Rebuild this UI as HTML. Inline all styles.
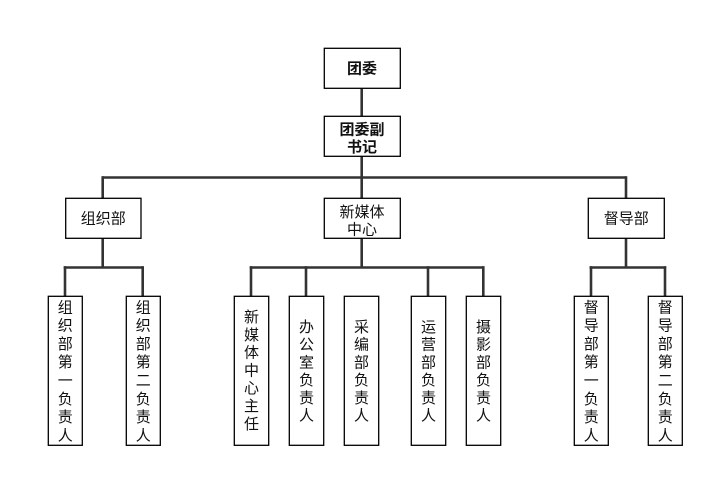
<!DOCTYPE html>
<html>
<head>
<meta charset="utf-8">
<style>
html,body{margin:0;padding:0;background:#fff;}
svg{display:block;}
text{font-family:"Liberation Sans","Noto Sans CJK SC","WenQuanYi Zen Hei",sans-serif;fill:#111;}
.b{font-weight:bold;}
</style>
</head>
<body>
<svg width="713" height="477" viewBox="0 0 713 477" xmlns="http://www.w3.org/2000/svg">
<rect width="713" height="477" fill="#fff"/>
<g stroke="#333" stroke-width="2.6" fill="none">
  <!-- center trunk -->
  <line x1="361.7" y1="88" x2="361.7" y2="116"/>
  <line x1="361.7" y1="156" x2="361.7" y2="198"/>
  <line x1="102.7" y1="177.5" x2="626" y2="177.5"/>
  <line x1="102.7" y1="176.2" x2="102.7" y2="198"/>
  <line x1="626" y1="176.2" x2="626" y2="198"/>
  <!-- left -->
  <line x1="102.7" y1="238" x2="102.7" y2="267.5"/>
  <line x1="63.7" y1="267.5" x2="143.3" y2="267.5"/>
  <line x1="65" y1="266.2" x2="65" y2="296"/>
  <line x1="142.7" y1="266.2" x2="142.7" y2="296"/>
  <!-- middle -->
  <line x1="361.7" y1="238" x2="361.7" y2="267.5"/>
  <line x1="249.7" y1="267.5" x2="484.5" y2="267.5"/>
  <line x1="251" y1="266.2" x2="251" y2="296"/>
  <line x1="306" y1="266.2" x2="306" y2="296"/>
  <line x1="428" y1="266.2" x2="428" y2="296"/>
  <line x1="483.3" y1="266.2" x2="483.3" y2="296"/>
  <!-- right -->
  <line x1="626" y1="238" x2="626" y2="267.5"/>
  <line x1="589.5" y1="267.5" x2="666.2" y2="267.5"/>
  <line x1="591" y1="266.2" x2="591" y2="296"/>
  <line x1="665" y1="266.2" x2="665" y2="296"/>
</g>
<g stroke="#000" stroke-width="1.3" fill="#fff">
  <rect x="324.3" y="48.3" width="76" height="40"/>
  <rect x="324.3" y="116.3" width="76" height="40"/>
  <rect x="65.7" y="198.3" width="75.3" height="40"/>
  <rect x="324.3" y="198.3" width="76" height="40"/>
  <rect x="588.3" y="198.3" width="76" height="40"/>
  <rect x="48.3" y="296.3" width="34" height="149"/>
  <rect x="126.3" y="296.3" width="34" height="149"/>
  <rect x="234.3" y="296.3" width="34.4" height="149"/>
  <rect x="289.3" y="296.3" width="34.4" height="149"/>
  <rect x="344.3" y="296.3" width="34.4" height="149"/>
  <rect x="411.3" y="296.3" width="34.4" height="149"/>
  <rect x="466.3" y="296.3" width="34.4" height="149"/>
  <rect x="574.3" y="296.3" width="34" height="149"/>
  <rect x="648.3" y="296.3" width="34" height="149"/>
</g>
<g font-size="15" text-anchor="middle">
  <text class="b" x="362" y="73.5">团委</text>
  <text class="b" x="362" y="134.5">团委副</text>
  <text class="b" x="362" y="152">书记</text>
  <text x="103.3" y="223.5">组织部</text>
  <text x="362" y="217">新媒体</text>
  <text x="362" y="234.5">中心</text>
  <text x="626.3" y="223.5">督导部</text>
</g>
<g font-size="15" text-anchor="middle">
  <!-- 组织部第一负责人 -->
  <g transform="translate(65.3,0)">
    <text x="0" y="312.3">组</text><text x="0" y="330.6">织</text><text x="0" y="348.9">部</text><text x="0" y="367.2">第</text><text x="0" y="385.5">一</text><text x="0" y="403.8">负</text><text x="0" y="422.1">责</text><text x="0" y="440.4">人</text>
  </g>
  <g transform="translate(143.3,0)">
    <text x="0" y="312.3">组</text><text x="0" y="330.6">织</text><text x="0" y="348.9">部</text><text x="0" y="367.2">第</text><text x="0" y="385.5">二</text><text x="0" y="403.8">负</text><text x="0" y="422.1">责</text><text x="0" y="440.4">人</text>
  </g>
  <g transform="translate(591.3,0)">
    <text x="0" y="312.3">督</text><text x="0" y="330.6">导</text><text x="0" y="348.9">部</text><text x="0" y="367.2">第</text><text x="0" y="385.5">一</text><text x="0" y="403.8">负</text><text x="0" y="422.1">责</text><text x="0" y="440.4">人</text>
  </g>
  <g transform="translate(665.3,0)">
    <text x="0" y="312.3">督</text><text x="0" y="330.6">导</text><text x="0" y="348.9">部</text><text x="0" y="367.2">第</text><text x="0" y="385.5">二</text><text x="0" y="403.8">负</text><text x="0" y="422.1">责</text><text x="0" y="440.4">人</text>
  </g>
  <!-- 新媒体中心主任 -->
  <g transform="translate(251.5,0)">
    <text x="0" y="322">新</text><text x="0" y="339.8">媒</text><text x="0" y="357.6">体</text><text x="0" y="375.4">中</text><text x="0" y="393.2">心</text><text x="0" y="411">主</text><text x="0" y="428.8">任</text>
  </g>
  <g transform="translate(306.5,0)">
    <text x="0" y="332">办</text><text x="0" y="349.7">公</text><text x="0" y="367.4">室</text><text x="0" y="385.1">负</text><text x="0" y="402.8">责</text><text x="0" y="420.5">人</text>
  </g>
  <g transform="translate(361.5,0)">
    <text x="0" y="332">采</text><text x="0" y="349.7">编</text><text x="0" y="367.4">部</text><text x="0" y="385.1">负</text><text x="0" y="402.8">责</text><text x="0" y="420.5">人</text>
  </g>
  <g transform="translate(428.5,0)">
    <text x="0" y="332">运</text><text x="0" y="349.7">营</text><text x="0" y="367.4">部</text><text x="0" y="385.1">负</text><text x="0" y="402.8">责</text><text x="0" y="420.5">人</text>
  </g>
  <g transform="translate(483.5,0)">
    <text x="0" y="332">摄</text><text x="0" y="349.7">影</text><text x="0" y="367.4">部</text><text x="0" y="385.1">负</text><text x="0" y="402.8">责</text><text x="0" y="420.5">人</text>
  </g>
</g>
</svg>
</body>
</html>
